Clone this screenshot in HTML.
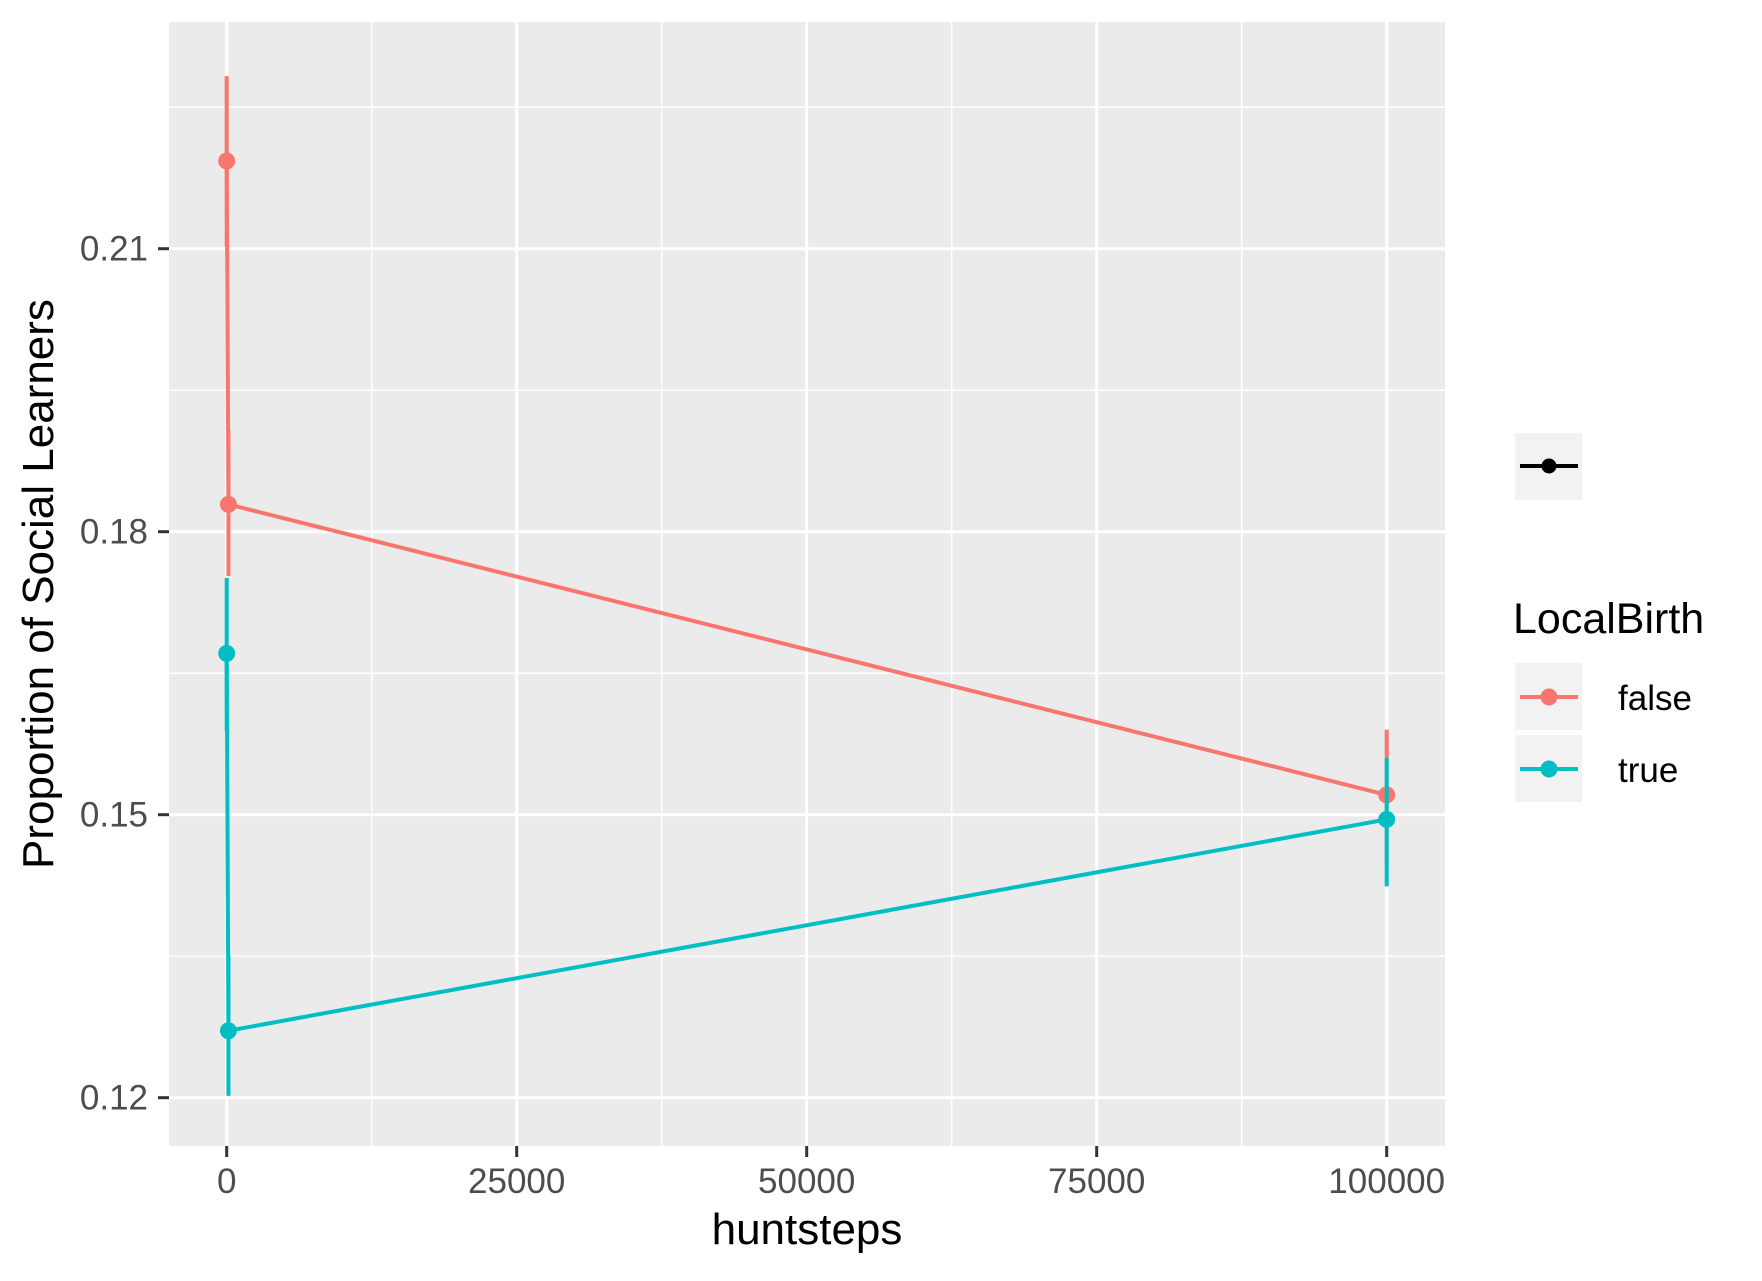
<!DOCTYPE html>
<html><head><meta charset="utf-8"><style>
html,body{margin:0;padding:0;background:#fff}
svg{display:block;font-family:"Liberation Sans",sans-serif}
</style></head><body>
<svg id="chart" width="1762" height="1281" viewBox="0 0 1762 1281">
<rect x="169" y="22" width="1276" height="1124" fill="#ebebeb"/>
<g id="grid"></g><g id="marks"></g><g id="axes"></g>
<text x="807" y="1244" font-size="44" text-anchor="middle" fill="#000">huntsteps</text>
<text transform="translate(53,584) rotate(-90)" font-size="44" text-anchor="middle" fill="#000">Proportion of Social Learners</text>
<g>
<rect x="1515" y="433" width="67" height="67" fill="#f2f2f2"/>
<line x1="1520" y1="466" x2="1578" y2="466" stroke="#000" stroke-width="4"/>
<circle cx="1549" cy="466" r="7.5" fill="#000"/>
<text x="1513" y="633" font-size="43" fill="#000">LocalBirth</text>
<rect x="1515" y="663" width="67" height="67" fill="#f2f2f2"/>
<line x1="1520" y1="697" x2="1578" y2="697" stroke="#f8766d" stroke-width="4"/>
<circle cx="1549" cy="697" r="8.5" fill="#f8766d"/>
<text x="1618" y="710" font-size="35" fill="#000">false</text>
<rect x="1515" y="735" width="67" height="67" fill="#f2f2f2"/>
<line x1="1520" y1="769" x2="1578" y2="769" stroke="#00bfc4" stroke-width="4"/>
<circle cx="1549" cy="769" r="8.5" fill="#00bfc4"/>
<text x="1618" y="782" font-size="35" fill="#000">true</text>
</g>
</svg>
<script>
const xTicks=[0,25000,50000,75000,100000];
const xTickLabels=["0","25000","50000","75000","100000"];
const yTicks=[0.12,0.15,0.18,0.21];
const yTickLabels=["0.12","0.15","0.18","0.21"];
const huntsteps=[0,150,100000];
const falseMean=[0.2193,0.1829,0.1521];
const falseLo=[0.2102,0.1753,0.1450];
const falseHi=[0.2283,0.1908,0.1590];
const trueMean=[0.1671,0.1271,0.1495];
const trueLo=[0.1589,0.1202,0.1424];
const trueHi=[0.1751,0.1351,0.1560];
const X0=226.7,X1=1386.7,Y12=1097.7,YPER=283/0.03;
function sx(v){return X0+(v-0)*(X1-X0)/100000;}
function sy(v){return Y12-(v-0.12)*YPER;}
const NS="http://www.w3.org/2000/svg";
function mk(tag,attrs,parent){const e=document.createElementNS(NS,tag);for(const k in attrs)e.setAttribute(k,attrs[k]);parent.appendChild(e);return e;}
const grid=document.getElementById('grid'),marks=document.getElementById('marks'),axes=document.getElementById('axes');
for(let i=0;i<xTicks.length-1;i++){const m=(xTicks[i]+xTicks[i+1])/2;
 const l=mk('line',{x1:sx(m),x2:sx(m),y1:22,y2:1146,stroke:'#fff','stroke-width':1.5},grid);
 
 }
const yMinor=[0.105,0.135,0.165,0.195,0.225];
yMinor.forEach(v=>{const l=mk('line',{x1:169,x2:1445,y1:sy(v),y2:sy(v),stroke:'#fff','stroke-width':1.5},grid);
 
 });
xTicks.forEach((v,i)=>{const l=mk('line',{x1:sx(v),x2:sx(v),y1:22,y2:1146,stroke:'#fff','stroke-width':3},grid);
 
 
 const t=mk('line',{x1:sx(v),x2:sx(v),y1:1146,y2:1157,stroke:'#333','stroke-width':3},axes);
 
 
 const tx=mk('text',{x:sx(v),y:1193,'font-size':35,'text-anchor':'middle',fill:'#4d4d4d'},axes);
 tx.textContent=xTickLabels[i];
 
 });
yTicks.forEach((v,i)=>{const l=mk('line',{x1:169,x2:1445,y1:sy(v),y2:sy(v),stroke:'#fff','stroke-width':3},grid);
 
 
 const t=mk('line',{x1:158,x2:169,y1:sy(v),y2:sy(v),stroke:'#333','stroke-width':3},axes);
 
 
 const tx=mk('text',{x:148,y:sy(v)+12,'font-size':35,'text-anchor':'end',fill:'#4d4d4d'},axes);
 tx.textContent=yTickLabels[i];
 
 });
function series(name,col,mean,lo,hi){
 const g=mk('g',{},marks);
 
 
 mean.forEach((m,i)=>{const e=mk('line',{x1:sx(huntsteps[i]),x2:sx(huntsteps[i]),y1:sy(lo[i]),y2:sy(hi[i]),stroke:col,'stroke-width':4},g);
  
  });
 const p=mk('polyline',{points:mean.map((m,i)=>sx(huntsteps[i])+','+sy(m)).join(' '),fill:'none',stroke:col,'stroke-width':4},g);
 
 
 mean.forEach((m,i)=>{const c=mk('circle',{cx:sx(huntsteps[i]),cy:sy(m),r:8.5,fill:col},g);
  
  });
}
series('false','#f8766d',falseMean,falseLo,falseHi);
series('true','#00bfc4',trueMean,trueLo,trueHi);
</script>
</body></html>
